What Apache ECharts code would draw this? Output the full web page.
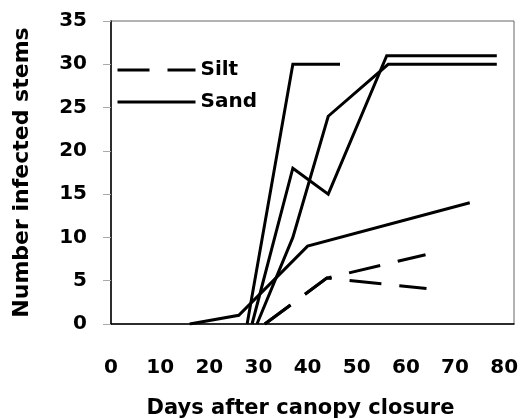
<!DOCTYPE html>
<html>
<head>
<meta charset="utf-8">
<script src="https://cdn.jsdelivr.net/npm/echarts@6/dist/echarts.min.js"></script>
<style>
html,body{margin:0;padding:0;background:#fff;}
#chart{width:530px;height:419px;}
</style>
</head>
<body>
<div id="chart"></div>
<script>
// Tick labels
const xTicks = [0, 10, 20, 30, 40, 50, 60, 70, 80];
const yTicks = [0, 5, 10, 15, 20, 25, 30, 35];

// Series values: [days after canopy closure, number infected stems]
const sandA = [[27.7, 0], [37, 30], [46.6, 30]];
const sandB = [[28.7, 0], [37, 18], [44.2, 15], [56.1, 31], [78.5, 31]];
const sandC = [[29.7, 0], [37, 10], [44.2, 24], [56.4, 30], [78.5, 30]];
const sandD = [[16, 0], [26, 1], [40, 9], [73, 14]];
const siltA = [[31.3, 0], [43.9, 5.3], [64, 8]];
const siltB = [[31.3, 0], [43.9, 5.3], [64.2, 4.1]];

const sandSeries = [sandA, sandB, sandC, sandD];
const siltSeries = [siltA, siltB];

const FONT = 'DejaVu Sans';

function mkSeries(name, data, dashed) {
  return {
    name: name,
    type: 'line',
    data: data,
    symbol: 'none',
    animation: false,
    lineStyle: { color: '#000', width: 3, type: dashed ? [32, 18] : 'solid', cap: 'butt', join: 'miter' },
    itemStyle: { color: '#000' }
  };
}

const series = [];
siltSeries.forEach(d => series.push(mkSeries('Silt', d, true)));
sandSeries.forEach(d => series.push(mkSeries('Sand', d, false)));

const chart = echarts.init(document.getElementById('chart'), null, { renderer: 'canvas' });
chart.setOption({
  backgroundColor: '#fff',
  animation: false,
  grid: {
    left: 111, right: 16, top: 21, bottom: 95,
    outerBoundsMode: 'none',
    containLabel: false,
    show: true, borderColor: '#666', borderWidth: 1, backgroundColor: 'transparent'
  },
  legend: {
    data: ['Silt', 'Sand'],
    orient: 'vertical',
    left: 116,
    top: 60,
    padding: 0,
    itemWidth: 78,
    itemHeight: 14,
    itemGap: 12,
    itemStyle: { opacity: 0 },
    lineStyle: { width: 3 },
    textStyle: { fontFamily: FONT, fontWeight: 'bold', fontSize: 20, color: '#000', padding: [4, 0, 0, 0] }
  },
  xAxis: {
    type: 'value',
    min: xTicks[0],
    max: 82,
    interval: 10,
    name: 'Days after canopy closure',
    nameLocation: 'middle',
    nameGap: 74,
    nameTextStyle: { fontFamily: FONT, fontWeight: 'bold', fontSize: 21, color: '#000', padding: [0, 24, 0, 0] },
    axisLine: { show: true, lineStyle: { color: '#000', width: 1.5 } },
    axisTick: { show: false },
    splitLine: { show: false },
    axisLabel: {
      showMaxLabel: false,
      margin: 34,
      fontFamily: FONT, fontWeight: 'bold', fontSize: 20, color: '#000',
      formatter: v => (xTicks.indexOf(v) >= 0 ? String(v) : '')
    }
  },
  yAxis: {
    type: 'value',
    min: yTicks[0],
    max: yTicks[yTicks.length - 1],
    interval: 5,
    name: 'Number infected stems',
    nameLocation: 'middle',
    nameGap: 78,
    nameTextStyle: { fontFamily: FONT, fontWeight: 'bold', fontSize: 22, color: '#000' },
    axisLine: { show: true, lineStyle: { color: '#000', width: 1.5 } },
    axisTick: { show: true, inside: false, length: 8, lineStyle: { color: '#aaa' } },
    splitLine: { show: false },
    axisLabel: {
      margin: 24,
      fontFamily: FONT, fontWeight: 'bold', fontSize: 20, color: '#000'
    }
  },
  series: series
});
</script>
</body>
</html>
